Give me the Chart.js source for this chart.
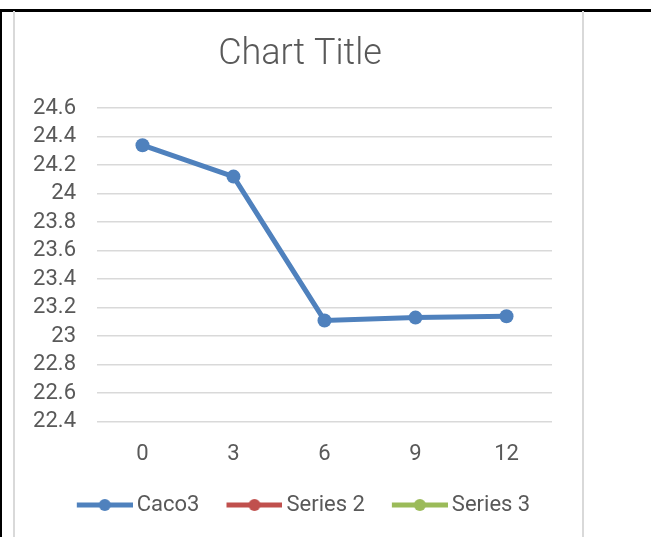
<!DOCTYPE html>
<html>
<head>
<meta charset="utf-8">
<script src="https://cdn.jsdelivr.net/npm/chart.js@4"></script>
<style>
  body { margin: 0; width: 651px; height: 537px; position: relative; overflow: hidden; background: #fff; }
  #frame { position: absolute; left: 0; top: 9px; width: 651px; height: 540px; border-top: 3px solid #000; border-left: 2px solid #000; box-sizing: border-box; }
  #box { position: absolute; left: 13px; top: 11px; width: 571px; height: 540px; border-left: 2px solid #d9d9d9; border-right: 2px solid #d9d9d9; box-sizing: border-box; }
  #chart { position: absolute; left: 0; top: 0; }
</style>
</head>
<body>
<div id="frame"></div>
<div id="box"></div>
<canvas id="chart" width="651" height="537"></canvas>
<script>
// data
const hours = ['0', '3', '6', '9', '12'];
const caco3 = [24.34, 24.12, 23.11, 23.13, 23.14];
const series2 = [];
const series3 = [];
const seriesNames = ['Caco3', 'Series 2', 'Series 3'];
const seriesColors = ['#4F81BD', '#C0504D', '#9BBB59'];

const textColor = '#595959';
const fontFamily = "Roboto, 'Open Sans', sans-serif";

// legend marker: a short line with a dot, like Excel
function legendIcon(color) {
    const c = document.createElement('canvas');
    c.width = 70;
    c.height = 14;
    const g = c.getContext('2d');
    g.strokeStyle = color;
    g.lineWidth = 5;
    g.beginPath();
    g.moveTo(14, 7);
    g.lineTo(70, 7);
    g.stroke();
    g.fillStyle = color;
    g.beginPath();
    g.arc(42, 7, 6, 0, Math.PI * 2);
    g.fill();
    return c;
}

const datasets = [caco3, series2, series3].map((values, i) => ({
    label: seriesNames[i],
    data: values,
    borderColor: seriesColors[i],
    backgroundColor: seriesColors[i],
    borderWidth: 5,
    pointRadius: 7,
    pointHoverRadius: 7,
    pointBorderWidth: 0,
    tension: 0
}));

new Chart(document.getElementById('chart'), {
    type: 'line',
    data: { labels: hours, datasets: datasets },
    options: {
        responsive: false,
        animation: false,
        layout: { padding: { left: 28, right: 79, top: 11, bottom: 11 } },
        plugins: {
            title: {
                display: true,
                text: 'Chart Title',
                color: textColor,
                font: { family: fontFamily, size: 36, weight: '300', lineHeight: 1.2 },
                padding: { top: 22, bottom: 32 }
            },
            legend: {
                position: 'bottom',
                labels: {
                    usePointStyle: true,
                    pointStyleWidth: 56,
                    padding: 20,
                    color: textColor,
                    font: { family: fontFamily, size: 22 },
                    generateLabels: chart => chart.data.datasets.map((ds, i) => ({
                        text: ds.label,
                        fillStyle: ds.borderColor,
                        strokeStyle: ds.borderColor,
                        lineWidth: 0,
                        pointStyle: legendIcon(ds.borderColor),
                        fontColor: textColor,
                        hidden: false,
                        datasetIndex: i
                    }))
                }
            },
            tooltip: { enabled: false }
        },
        scales: {
            x: {
                offset: true,
                grid: { display: false, drawTicks: false },
                border: { display: false },
                ticks: { color: textColor, padding: 20, font: { family: fontFamily, size: 22 } },
                afterFit: scale => { scale.height -= 14; }
            },
            y: {
                min: 22.4,
                max: 24.6,
                grid: { color: '#d9d9d9', lineWidth: 1.5, drawTicks: false },
                border: { display: false },
                ticks: {
                    stepSize: 0.2,
                    autoSkip: false,
                    color: textColor,
                    padding: 21,
                    font: { family: fontFamily, size: 22 },
                    callback: v => String(+v.toFixed(1))
                },
                afterFit: scale => { scale.width = 69; }
            },
            // empty right-hand spacer so the title and legend centre like the original
            spacer: {
                type: 'linear',
                position: 'right',
                grid: { display: false },
                border: { display: false },
                ticks: { display: false },
                afterFit: scale => { scale.width = 20; }
            }
        }
    }
});
</script>
</body>
</html>
